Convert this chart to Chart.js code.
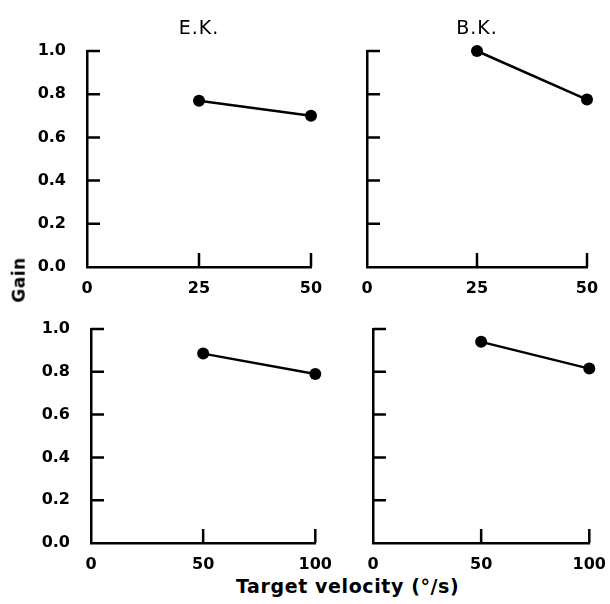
<!DOCTYPE html>
<html>
<head>
<meta charset="utf-8">
<script src="https://cdn.jsdelivr.net/npm/chart.js@4"></script>
<style>
  html, body { margin: 0; padding: 0; background: #fff; }
  #page { position: relative; width: 610px; height: 604px; overflow: hidden; }
  .panel { position: absolute; }
  .lbl { position: absolute; font-family: "DejaVu Sans", sans-serif; font-weight: bold; color: #000; white-space: nowrap; }
</style>
</head>
<body>
<div id="page">
  <div class="panel" id="p1"><canvas id="c1"></canvas></div>
  <div class="panel" id="p2"><canvas id="c2"></canvas></div>
  <div class="panel" id="p3"><canvas id="c3"></canvas></div>
  <div class="panel" id="p4"><canvas id="c4"></canvas></div>
  <div class="lbl" id="gain" style="left:-4px; top:270px; font-size:17px; letter-spacing:0.5px; transform: rotate(-90deg);">Gain</div>
  <div class="lbl" id="xtitle" style="left:236px; top:575px; font-size:19px; letter-spacing:0.6px;">Target velocity (°/s)</div>
</div>
<script>
// data
const gainTicks = [0, 0.2, 0.4, 0.6, 0.8, 1.0];
const slowTicks = [0, 25, 50];
const fastTicks = [0, 50, 100];

const ekSlowVel = [25, 50];
const ekSlowGain = [0.77, 0.70];
const bkSlowVel = [25, 50];
const bkSlowGain = [1.0, 0.775];
const ekFastVel = [50, 100];
const ekFastGain = [0.885, 0.79];
const bkFastVel = [50, 100];
const bkFastGain = [0.94, 0.815];

const PAD_L = 60, PAD_T = 45, PAD_R = 20, PAD_B = 30;

// inward tick marks + panel title, positioned from the scales
const panelDecor = {
    id: "panelDecor",
    afterDraw(chart, args, opts) {
        const { ctx, chartArea, scales } = chart;
        ctx.save();
        ctx.strokeStyle = "#000";
        ctx.lineWidth = 2.5;
        ctx.beginPath();
        scales.y.ticks.forEach(t => {
            if (t.value === 0) return;
            const py = scales.y.getPixelForValue(t.value);
            ctx.moveTo(chartArea.left, py);
            ctx.lineTo(chartArea.left + 13, py);
        });
        scales.x.ticks.forEach(t => {
            if (t.value === 0) return;
            const px = scales.x.getPixelForValue(t.value);
            ctx.moveTo(px, chartArea.bottom);
            ctx.lineTo(px, chartArea.bottom - 14);
        });
        ctx.stroke();
        if (opts.title) {
            ctx.fillStyle = "#000";
            ctx.font = "19px 'DejaVu Sans', sans-serif";
            ctx.letterSpacing = "1px";
            ctx.textAlign = "center";
            ctx.textBaseline = "middle";
            ctx.fillText(opts.title, (chartArea.left + chartArea.right) / 2, chartArea.top - 22);
        }
        ctx.restore();
    }
};

function makePanel(id, area, vel, gain, xTicks, showGainLabels, title) {
    const box = document.getElementById("p" + id);
    box.style.left = (area.left - PAD_L) + "px";
    box.style.top = (area.top - PAD_T) + "px";
    box.style.width = (area.right - area.left + PAD_L + PAD_R) + "px";
    box.style.height = (area.bottom - area.top + PAD_T + PAD_B) + "px";

    return new Chart(document.getElementById("c" + id), {
        type: "line",
        data: {
            datasets: [{
                data: vel.map((v, i) => ({ x: v, y: gain[i] })),
                borderColor: "#000",
                backgroundColor: "#000",
                borderWidth: 2.5,
                pointRadius: 6,
                pointBorderWidth: 0,
                clip: false
            }]
        },
        options: {
            responsive: true,
            maintainAspectRatio: false,
            animation: false,
            layout: { padding: { top: PAD_T, right: PAD_R, left: 0, bottom: 0 } },
            plugins: {
                legend: { display: false },
                tooltip: { enabled: false },
                panelDecor: { title: title }
            },
            scales: {
                x: {
                    type: "linear",
                    min: xTicks[0],
                    max: xTicks[xTicks.length - 1],
                    afterBuildTicks: s => { s.ticks = xTicks.map(v => ({ value: v })); },
                    afterFit: s => { s.height = PAD_B; },
                    grid: { display: false },
                    border: { color: "#000", width: 2.5 },
                    ticks: {
                        color: "#000",
                        padding: 4,
                        maxRotation: 0,
                        font: { family: "'DejaVu Sans', sans-serif", size: 16, weight: "bold" }
                    }
                },
                y: {
                    min: 0,
                    max: 1,
                    afterBuildTicks: s => { s.ticks = gainTicks.map(v => ({ value: v })); },
                    afterFit: s => { s.width = PAD_L; },
                    grid: { display: false },
                    border: { color: "#000", width: 2.5 },
                    ticks: {
                        color: showGainLabels ? "#000" : "rgba(0,0,0,0)",
                        padding: 13,
                        callback: v => v.toFixed(1),
                        font: { family: "'DejaVu Sans', sans-serif", size: 16, weight: "bold" }
                    }
                }
            }
        },
        plugins: [panelDecor]
    });
}

makePanel(1, { left: 87, right: 311, top: 51, bottom: 267 }, ekSlowVel, ekSlowGain, slowTicks, true, "E.K.");
makePanel(2, { left: 367, right: 587, top: 51, bottom: 267 }, bkSlowVel, bkSlowGain, slowTicks, false, "B.K.");
makePanel(3, { left: 91, right: 316, top: 329, bottom: 543 }, ekFastVel, ekFastGain, fastTicks, true, "");
makePanel(4, { left: 373, right: 590, top: 329, bottom: 543 }, bkFastVel, bkFastGain, fastTicks, false, "");
</script>
</body>
</html>
